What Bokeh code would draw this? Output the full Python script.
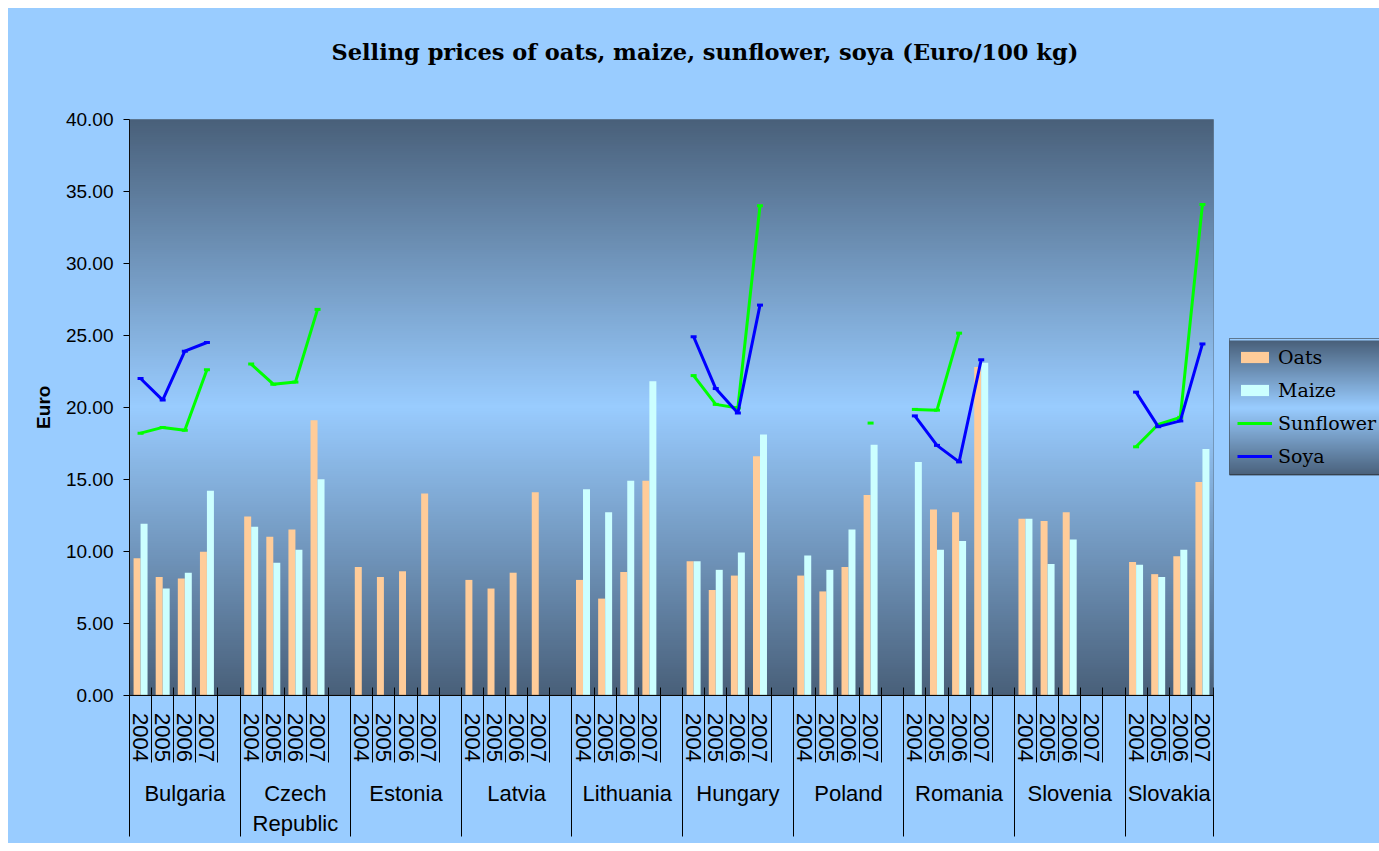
import math
import numpy as np
from bokeh.plotting import figure
from bokeh.models import (Range1d, LinearAxis, FixedTicker, NumeralTickFormatter,
                          Legend, LegendItem, BoxAnnotation)
from bokeh.core.properties import value
from bokeh.embed import file_html
from bokeh.resources import INLINE

nan = float("nan")

# ---------------- data ----------------
countries = ["Bulgaria", "Czech\nRepublic", "Estonia", "Latvia", "Lithuania",
             "Hungary", "Poland", "Romania", "Slovenia", "Slovakia"]
years = ["2004", "2005", "2006", "2007"]

oats = [
    [9.5, 8.2, 8.1, 9.95],
    [12.4, 11.0, 11.5, 19.1],
    [8.9, 8.2, 8.6, 14.0],
    [8.0, 7.4, 8.5, 14.1],
    [8.0, 6.7, 8.55, 14.9],
    [9.3, 7.3, 8.3, 16.6],
    [8.3, 7.2, 8.9, 13.9],
    [nan, 12.9, 12.7, 22.8],
    [12.25, 12.1, 12.7, nan],
    [9.25, 8.4, 9.65, 14.8],
]
maize = [
    [11.9, 7.4, 8.5, 14.2],
    [11.7, 9.2, 10.1, 15.0],
    [nan, nan, nan, nan],
    [nan, nan, nan, nan],
    [14.3, 12.7, 14.9, 21.8],
    [9.3, 8.7, 9.9, 18.1],
    [9.7, 8.7, 11.5, 17.4],
    [16.2, 10.1, 10.7, 23.1],
    [12.25, 9.1, 10.8, nan],
    [9.05, 8.2, 10.1, 17.1],
]
sunflower = [
    [18.2, 18.6, 18.4, 22.6],
    [23.0, 21.6, 21.75, 26.8],
    [nan, nan, nan, nan],
    [nan, nan, nan, nan],
    [nan, nan, nan, nan],
    [22.2, 20.2, 19.95, 34.0],
    [nan, nan, nan, 18.9],
    [19.85, 19.8, 25.15, nan],
    [nan, nan, nan, nan],
    [17.25, 18.8, 19.3, 34.1],
]
soya = [
    [22.0, 20.5, 23.9, 24.5],
    [nan, nan, nan, nan],
    [nan, nan, nan, nan],
    [nan, nan, nan, nan],
    [nan, nan, nan, nan],
    [24.9, 21.3, 19.6, 27.1],
    [nan, nan, nan, nan],
    [19.4, 17.35, 16.2, 23.3],
    [nan, nan, nan, nan],
    [21.05, 18.65, 19.05, 24.4],
]
y_ticks = [0, 5, 10, 15, 20, 25, 30, 35, 40]

# ---------------- styles / layout ----------------
BG = "#99CCFF"
DARK = np.array([73, 96, 122], dtype=float)
LIGHT = np.array([153, 204, 255], dtype=float)
OATS_C, MAIZE_C, SUN_C, SOYA_C = "#FFCC99", "#CCFFFF", "#00FF00", "#0000FF"

W, H = 1371, 835
PL, PR, PT, PB = 121, 1205, 111, 686.5   # plot-area edges on the canvas (px)
FRAME_TOP = 80                            # canvas px where the drawing frame starts
NG, NY = len(countries), len(years)
GROUP = NY + 1                            # 4 years + 1 gap slot
NSLOT = NG * GROUP - 1
YMAX = 40
slot_px = (PR - PL) / NSLOT
ppu = (PB - PT) / YMAX


def dx(px):
    return (px - PL) / slot_px


def dy(py):
    return (PB - py) / ppu


p = figure(width=W, height=H, x_range=Range1d(dx(0), dx(W)),
           y_range=Range1d(dy(H), dy(FRAME_TOP)),
           output_backend="svg", toolbar_location=None, x_axis_type=None,
           min_border_left=0, min_border_right=0, min_border_top=FRAME_TOP,
           min_border_bottom=0,
           background_fill_color=BG, border_fill_color=BG, outline_line_color=None,
           margin=(8, 0, 0, 8), styles={"background-color": BG})
p.grid.visible = False


def gradient_image(n=256):
    t = np.linspace(0, 1, n)
    f = 1 - np.abs(2 * t - 1)
    rgb = DARK[None, :] + (LIGHT - DARK)[None, :] * f[:, None]
    img = np.zeros((n, 2), dtype=np.uint32)
    view = img.view(dtype=np.uint8).reshape((n, 2, 4))
    for k in range(3):
        view[:, :, k] = np.round(rgb[:, k])[:, None].astype(np.uint8)
    view[:, :, 3] = 255
    return img


# plot-area gradient
p.image_rgba(image=[gradient_image()], x=0, y=0, dw=NSLOT, dh=YMAX)

# legend box gradient (legend box px on canvas)
LG_L, LG_T, LG_B = 1221, 332, 467
p.image_rgba(image=[gradient_image()], x=dx(LG_L), y=dy(LG_B),
             dw=dx(W) - dx(LG_L) + 1, dh=dy(LG_T) - dy(LG_B))

# ---------------- bars ----------------
centers = [c * GROUP + j + 0.5 for c in range(NG) for j in range(NY)]
BW = 0.316
oats_flat = [v for row in oats for v in row]
maize_flat = [v for row in maize for v in row]
r_oats = p.vbar(x=[x - BW / 2 for x in centers], top=oats_flat, bottom=0, width=BW,
                fill_color=OATS_C, line_color=None)
r_maize = p.vbar(x=[x + BW / 2 for x in centers], top=maize_flat, bottom=0, width=BW,
                 fill_color=MAIZE_C, line_color=None)

# ---------------- lines ----------------
lx, sun_y, soy_y = [], [], []
for c in range(NG):
    for j in range(NY):
        lx.append(c * GROUP + j + 0.5)
        sun_y.append(sunflower[c][j])
        soy_y.append(soya[c][j])
    lx.append(c * GROUP + NY + 0.5)
    sun_y.append(nan)
    soy_y.append(nan)

r_sun = p.line(lx, sun_y, line_color=SUN_C, line_width=3)
p.scatter(lx, sun_y, marker="dash", size=6, line_color=SUN_C, line_width=3)
r_soy = p.line(lx, soy_y, line_color=SOYA_C, line_width=3)
p.scatter(lx, soy_y, marker="dash", size=6, line_color=SOYA_C, line_width=3)

# plot-area border
p.add_layout(BoxAnnotation(left=0, right=NSLOT, bottom=0, top=YMAX, fill_color=None,
                           line_color="#303030", line_width=1))

# ---------------- y axis (fixed at x = 0) ----------------
ya = p.yaxis[0]
ya.fixed_location = 0
ya.ticker = FixedTicker(ticks=y_ticks, minor_ticks=[])
ya.formatter = NumeralTickFormatter(format="0.00")
ya.bounds = (0, YMAX)
ya.axis_line_color = "black"
ya.axis_line_width = 1
ya.major_tick_in = 0
ya.major_tick_out = 6
ya.major_tick_line_color = "black"
ya.minor_tick_line_color = None
ya.major_label_standoff = 10
ya.major_label_text_font = "Liberation Sans"
ya.major_label_text_font_size = "19px"
ya.major_label_text_color = "black"

# y-axis title
p.text(x=[dx(35)], y=[YMAX / 2], text=["Euro"], angle=math.pi / 2,
       text_align="center", text_baseline="middle",
       text_font=value("Liberation Sans"), text_font_style="bold",
       text_font_size="19px", text_color="black")

# ---------------- x axes (category axis built from several fixed axes) ----------------
def add_xaxis(ticks, **kw):
    ax = LinearAxis(fixed_location=0, ticker=FixedTicker(ticks=ticks, minor_ticks=[]), **kw)
    p.add_layout(ax, "below")
    return ax


# slot boundaries: axis line and ticks
add_xaxis(list(range(0, NSLOT + 1)), bounds=(0, NSLOT), axis_line_color="black",
          axis_line_width=1, major_tick_in=8, major_tick_out=67,
          major_tick_line_color="black", minor_tick_line_color=None,
          major_label_text_color=None)
# group separators
group_edges = [c * GROUP for c in range(NG)] + [NSLOT]
add_xaxis(group_edges, axis_line_color=None, major_tick_in=0, major_tick_out=141,
          major_tick_line_color="black", minor_tick_line_color=None,
          major_label_text_color=None)
# year labels
add_xaxis(centers, axis_line_color=None, major_tick_line_color=None,
          minor_tick_line_color=None, major_tick_in=0, major_tick_out=0,
          major_label_overrides={x: years[i % NY] for i, x in enumerate(centers)},
          major_label_orientation="vertical", major_label_standoff=18,
          major_label_text_font="Liberation Sans", major_label_text_font_size="22px",
          major_label_text_color="black")
# country labels
group_centers = [(group_edges[c] + min(group_edges[c] + GROUP, NSLOT)) / 2 for c in range(NG)]
add_xaxis(group_centers, axis_line_color=None, major_tick_line_color=None,
          minor_tick_line_color=None, major_tick_in=0, major_tick_out=0,
          major_label_overrides={x: countries[i] for i, x in enumerate(group_centers)},
          major_label_standoff=86, major_label_text_font="Liberation Sans",
          major_label_text_font_size="22px", major_label_text_color="black")

# ---------------- title ----------------
p.title.text = "Selling prices of oats, maize, sunflower, soya (Euro/100 kg)"
p.title.text_font = "DejaVu Serif"
p.title.text_font_style = "bold"
p.title.text_font_size = "22.5px"
p.title.text_color = "black"
p.title.align = "left"
p.title.offset = 323
p.title.standoff = 47

# ---------------- legend ----------------
legend = Legend(items=[LegendItem(label="Oats", renderers=[r_oats]),
                       LegendItem(label="Maize", renderers=[r_maize]),
                       LegendItem(label="Sunflower", renderers=[r_sun]),
                       LegendItem(label="Soya", renderers=[r_soy])],
                location=(LG_L, H - LG_B), orientation="vertical",
                glyph_width=35, glyph_height=14, label_height=20, label_standoff=6,
                padding=7, spacing=11, margin=0,
                label_text_font="DejaVu Serif", label_text_font_size="19px",
                label_text_color="black",
                border_line_color="#222222", border_line_width=1,
                background_fill_alpha=0)
p.add_layout(legend)

open("out.html", "w").write(file_html(p, INLINE))
